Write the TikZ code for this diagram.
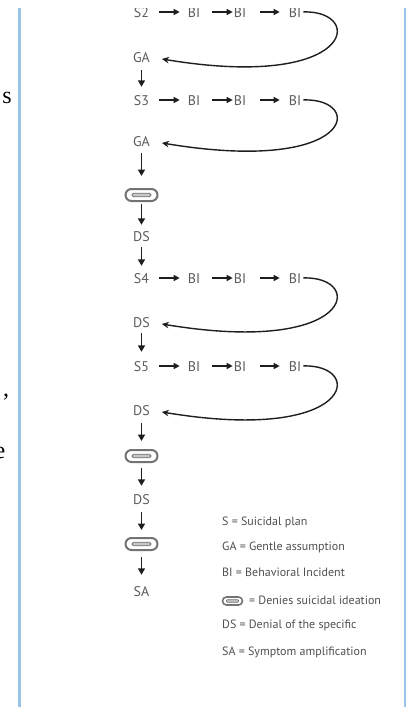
\documentclass[tikz,border=0pt]{standalone}
\usepackage{fontspec}
\setmainfont{PT Sans}
\newfontfamily\serifpage{Liberation Serif}
\usetikzlibrary{arrows.meta}
\definecolor{lblgray}{RGB}{92,92,92}
\definecolor{leggray}{RGB}{80,80,80}
\definecolor{arrdark}{RGB}{30,30,30}
\definecolor{pageblue}{RGB}{155,195,230}
\definecolor{ovalgray}{RGB}{115,115,115}
\begin{document}
\begin{tikzpicture}[x=1pt,y=-1pt,
  lbl/.style={font=\fontsize{14}{14}\selectfont, text=lblgray, inner sep=0pt, text height=10pt, text depth=0pt},
  leg/.style={font=\fontsize{12}{12}\selectfont, text=leggray, inner sep=0pt, anchor=west, text height=8.5pt, text depth=2pt},
  pagetxt/.style={font=\serifpage\fontsize{24}{24}\selectfont, text=black, inner sep=0pt, anchor=base},
  harr/.style={draw=arrdark, line width=1.4pt, -{Triangle[length=6pt,width=6pt]}},
  varr/.style={draw=arrdark, line width=1.6pt, -{Triangle[length=6.5pt,width=7pt]}},
  loopar/.style={draw=arrdark, line width=1.4pt, -{Stealth[length=7pt,width=6.5pt]}},
  deny/.style={draw=ovalgray, line width=2pt, rounded corners=6pt, minimum width=32pt, minimum height=12pt, inner sep=0pt, fill=white,
    path picture={\draw[ovalgray, line width=0.8pt, fill=ovalgray!40, rounded corners=1.5pt]
      ([xshift=-9.5pt,yshift=-1.8pt]path picture bounding box.center) rectangle ([xshift=9.5pt,yshift=1.8pt]path picture bounding box.center);}},
  denysmall/.style={draw=ovalgray, line width=1.6pt, rounded corners=4pt, minimum width=20pt, minimum height=8pt, inner sep=0pt, fill=white,
    path picture={\draw[ovalgray, line width=0.7pt, fill=ovalgray!40, rounded corners=1pt]
      ([xshift=-6pt,yshift=-1.3pt]path picture bounding box.center) rectangle ([xshift=6pt,yshift=1.3pt]path picture bounding box.center);}},
  hA/.style={shorten <=10pt, shorten >=8pt},
  hB/.style={shorten <=12pt, shorten >=1pt},
  hC/.style={shorten <=14pt, shorten >=9pt},
  lp/.style={shorten <=2pt, shorten >=12pt}
]
\useasboundingbox (0,0) rectangle (406,707);
\fill[white] (0,0) rectangle (406,707);
\begin{scope}
\clip (0,8) rectangle (406,707);
% page borders
\draw[pageblue, line width=2.5pt] (19.5,8) -- (19.5,707);
\draw[pageblue, line width=2.5pt] (405,8) -- (405,707);
% fragments of the surrounding page text
\node[pagetxt] (fs) at (7,103) {s};
\node[pagetxt] (fc) at (6,396) {,};
\node[pagetxt] (fe) at (0,458) {e};

% row S2
\node[lbl] (s2) at (141.5,12) {S2};
\node[lbl] (b21) at (194,12) {BI};
\node[lbl] (b22) at (240,12) {BI};
\node[lbl] (b23) at (295,12) {BI};
\node[lbl] (ga1) at (141.5,57) {GA};
% row S3
\node[lbl] (s3) at (141.5,100) {S3};
\node[lbl] (b31) at (194,100) {BI};
\node[lbl] (b32) at (240,100) {BI};
\node[lbl] (b33) at (295,100) {BI};
\node[lbl] (ga2) at (141.5,141) {GA};
\node[deny] (d1) at (141.5,195) {};
\node[lbl] (ds1) at (141.5,236) {DS};
% row S4
\node[lbl] (s4) at (141.5,278) {S4};
\node[lbl] (b41) at (194,278) {BI};
\node[lbl] (b42) at (240,278) {BI};
\node[lbl] (b43) at (295,278) {BI};
\node[lbl] (ds2) at (141.5,322) {DS};
% row S5
\node[lbl] (s5) at (141.5,366) {S5};
\node[lbl] (b51) at (194,366) {BI};
\node[lbl] (b52) at (240,366) {BI};
\node[lbl] (b53) at (295,366) {BI};
\node[lbl] (ds3) at (141.5,410) {DS};
\node[deny] (d2) at (141.5,456) {};
\node[lbl] (ds4) at (141.5,499) {DS};
\node[deny] (d3) at (141.5,544) {};
\node[lbl] (sa) at (141.5,591) {SA};

% horizontal arrows
\foreach \r in {2,3,4,5}{
  \draw[harr,hA] (s\r) -- (b\r1);
  \draw[harr,hB] (b\r1) -- (b\r2);
  \draw[harr,hC] (b\r2) -- (b\r3);
}
% loops
\draw[loopar,lp] (b23.east) .. controls +(64,-2) and +(205,34) .. (ga1.east);
\draw[loopar,lp] (b33.east) .. controls +(64,-2) and +(205,34) .. (ga2.east);
\draw[loopar,lp] (b43.east) .. controls +(64,-2) and +(205,34) .. (ds2.east);
\draw[loopar,lp] (b53.east) .. controls +(64,-2) and +(205,34) .. (ds3.east);

% vertical arrows
\draw[varr, shorten <=8pt, shorten >=8pt] (ga1.south) -- (s3.north);
\draw[varr, shorten <=7pt, shorten >=12pt] (ga2.south) -- (d1.north);
\draw[varr, shorten <=2pt, shorten >=6pt] (d1.south) -- (ds1.north);
\draw[varr, shorten <=6pt, shorten >=7pt] (ds1.south) -- (s4.north);
\draw[varr, shorten <=6pt, shorten >=9pt] (ds2.south) -- (s5.north);
\draw[varr, shorten <=8pt, shorten >=8pt] (ds3.south) -- (d2.north);
\draw[varr, shorten <=5pt, shorten >=8pt] (d2.south) -- (ds4.north);
\draw[varr, shorten <=8pt, shorten >=7pt] (ds4.south) -- (d3.north);
\draw[varr, shorten <=6pt, shorten >=11pt] (d3.south) -- (sa.north);

% legend
\node[leg] (l1) at (222,522) {S = Suicidal plan};
\node[leg] (l2) at (222,547) {GA = Gentle assumption};
\node[leg] (l3) at (222,573) {BI = Behavioral Incident};
\node[denysmall] (l4o) at (232.5,601) {};
\node[leg] (l4) at (249,601) {= Denies suicidal ideation};
\node[leg] (l5) at (222,625) {DS = Denial of the specific};
\node[leg] (l6) at (222,652) {SA = Symptom amplification};
\end{scope}
\end{tikzpicture}
\end{document}
